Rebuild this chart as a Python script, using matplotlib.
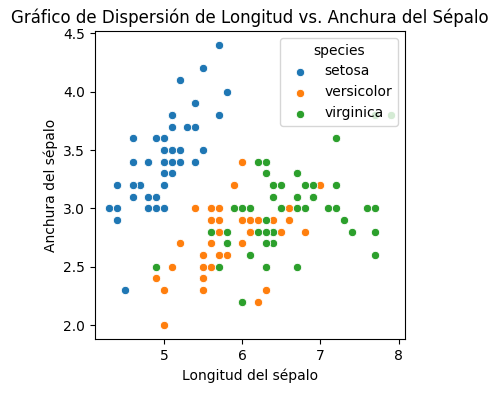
import matplotlib
matplotlib.use("Agg")
import matplotlib.pyplot as plt

# iris: sepal length / sepal width per species
setosa_len = [5.1, 4.9, 4.7, 4.6, 5.0, 5.4, 4.6, 5.0, 4.4, 4.9, 5.4, 4.8, 4.8, 4.3, 5.8,
              5.7, 5.4, 5.1, 5.7, 5.1, 5.4, 5.1, 4.6, 5.1, 4.8, 5.0, 5.0, 5.2, 5.2, 4.7,
              4.8, 5.4, 5.2, 5.5, 4.9, 5.0, 5.5, 4.9, 4.4, 5.1, 5.0, 4.5, 4.4, 5.0, 5.1,
              4.8, 5.1, 4.6, 5.3, 5.0]
setosa_wid = [3.5, 3.0, 3.2, 3.1, 3.6, 3.9, 3.4, 3.4, 2.9, 3.1, 3.7, 3.4, 3.0, 3.0, 4.0,
              4.4, 3.9, 3.5, 3.8, 3.8, 3.4, 3.7, 3.6, 3.3, 3.4, 3.0, 3.4, 3.5, 3.4, 3.2,
              3.1, 3.4, 4.1, 4.2, 3.1, 3.2, 3.5, 3.6, 3.0, 3.4, 3.5, 2.3, 3.2, 3.5, 3.8,
              3.0, 3.8, 3.2, 3.7, 3.3]
versicolor_len = [7.0, 6.4, 6.9, 5.5, 6.5, 5.7, 6.3, 4.9, 6.6, 5.2, 5.0, 5.9, 6.0, 6.1, 5.6,
                  6.7, 5.6, 5.8, 6.2, 5.6, 5.9, 6.1, 6.3, 6.1, 6.4, 6.6, 6.8, 6.7, 6.0, 5.7,
                  5.5, 5.5, 5.8, 6.0, 5.4, 6.0, 6.7, 6.3, 5.6, 5.5, 5.5, 6.1, 5.8, 5.0, 5.6,
                  5.7, 5.7, 6.2, 5.1, 5.7]
versicolor_wid = [3.2, 3.2, 3.1, 2.3, 2.8, 2.8, 3.3, 2.4, 2.9, 2.7, 2.0, 3.0, 2.2, 2.9, 2.9,
                  3.1, 3.0, 2.7, 2.2, 2.5, 3.2, 2.8, 2.5, 2.8, 2.9, 3.0, 2.8, 3.0, 2.9, 2.6,
                  2.4, 2.4, 2.7, 2.7, 3.0, 3.4, 3.1, 2.3, 3.0, 2.5, 2.6, 3.0, 2.6, 2.3, 2.7,
                  3.0, 2.9, 2.9, 2.5, 2.8]
virginica_len = [6.3, 5.8, 7.1, 6.3, 6.5, 7.6, 4.9, 7.3, 6.7, 7.2, 6.5, 6.4, 6.8, 5.7, 5.8,
                 6.4, 6.5, 7.7, 7.7, 6.0, 6.9, 5.6, 7.7, 6.3, 6.7, 7.2, 6.2, 6.1, 6.4, 7.2,
                 7.4, 7.9, 6.4, 6.3, 6.1, 7.7, 6.3, 6.4, 6.0, 6.9, 6.7, 6.9, 5.8, 6.8, 6.7,
                 6.7, 6.3, 6.5, 6.2, 5.9]
virginica_wid = [3.3, 2.7, 3.0, 2.9, 3.0, 3.0, 2.5, 2.9, 2.5, 3.6, 3.2, 2.7, 3.0, 2.5, 2.8,
                 3.2, 3.0, 3.8, 2.6, 2.2, 3.2, 2.8, 2.8, 2.7, 3.3, 3.2, 2.8, 3.0, 2.8, 3.0,
                 2.8, 3.8, 2.8, 2.8, 2.6, 3.0, 3.4, 3.1, 3.0, 3.1, 3.1, 3.1, 2.7, 3.2, 3.3,
                 3.0, 2.5, 3.0, 3.4, 3.0]

species = ["setosa", "versicolor", "virginica"]
lengths = [setosa_len, versicolor_len, virginica_len]
widths = [setosa_wid, versicolor_wid, virginica_wid]
colors = ["#1f77b4", "#ff7f0e", "#2ca02c"]

fig = plt.figure(figsize=(4.99, 3.93), dpi=100)
ax = fig.add_axes([0.1904, 0.1374, 0.6212, 0.7837])
for name, xs, ys, col in zip(species, lengths, widths, colors):
    ax.scatter(xs, ys, s=36, color=col, edgecolor="white", linewidth=0.6, label=name)

ax.set_title("Gráfico de Dispersión de Longitud vs. Anchura del Sépalo")
ax.set_xlabel("Longitud del sépalo")
ax.set_ylabel("Anchura del sépalo")
ax.legend(title="species", loc="upper right")
fig.savefig("out.png")
